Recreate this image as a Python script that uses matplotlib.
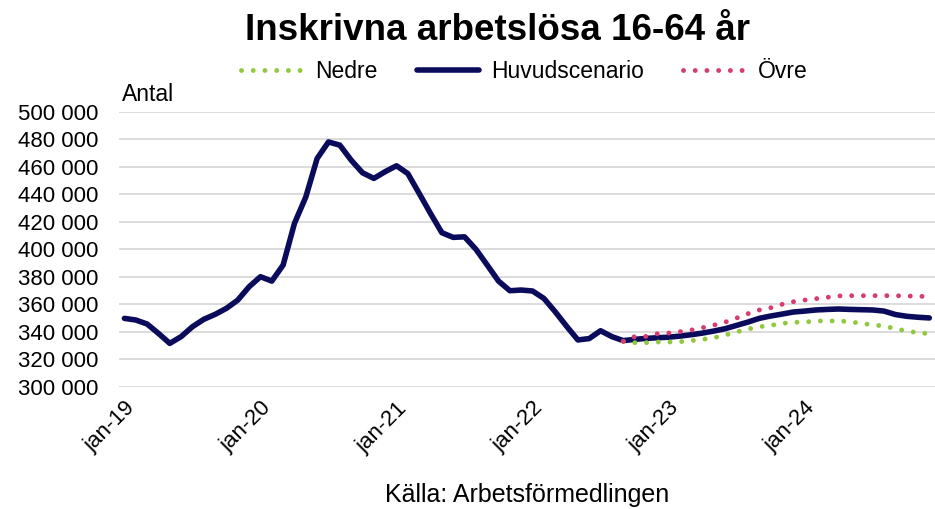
import matplotlib
matplotlib.use("Agg")
import matplotlib.pyplot as plt
import numpy as np
import pandas as pd
from matplotlib.ticker import FuncFormatter

plt.rcParams.update({"font.family": ["Liberation Sans", "DejaVu Sans"], "font.size": 15})

# monthly categories jan-19 .. dec-24
months = pd.date_range("2019-01-01", periods=72, freq="MS")

# Huvudscenario, thousands (history up to aug-22, then forecast)
huvud = [349.7, 348.5, 345.6, 338.8, 331.5, 336.4, 343.6, 349.0, 352.6, 357.0, 363.0, 372.7,
         380.0, 376.8, 388.5, 418.8, 438.0, 466.0, 478.0, 475.7, 464.8, 455.6, 451.5, 456.4,
         460.7, 455.0, 440.6, 426.0, 412.0, 408.6, 409.0, 400.0, 388.5, 376.8, 369.8, 370.3,
         369.6, 364.2, 354.5, 344.0, 334.0, 335.0, 340.7, 336.4, 333.5, 334.4, 335.1, 335.6,
         336.0, 336.8, 337.8, 339.0, 340.5, 342.2, 344.6, 347.0, 349.7, 351.4, 352.8, 354.3,
         355.0, 355.8, 356.2, 356.5, 356.2, 356.0, 355.8, 355.0, 352.5, 351.2, 350.5, 350.0]

# scenarios start sep-22 (index 44)
scen_start = 44
nedre = [333.0, 332.0, 332.0, 332.5, 332.5, 332.7, 333.5, 334.4, 335.6, 337.6, 339.8, 341.9,
         343.6, 344.6, 346.0, 346.8, 347.0, 347.8, 347.8, 347.8, 347.3, 346.0, 345.0, 344.1,
         342.2, 340.5, 339.3, 338.5]
ovre = [333.0, 336.4, 336.6, 338.5, 339.0, 340.0, 341.2, 342.9, 344.8, 347.0, 349.9, 353.1,
        355.8, 357.4, 359.9, 361.8, 363.0, 364.0, 365.0, 366.0, 366.2, 366.2, 366.2, 366.2,
        366.2, 366.0, 365.7, 365.7]

navy = "#0b0b5c"
green = "#92c83e"
pink = "#d83a72"

x = np.arange(len(months))
xs = np.arange(scen_start, scen_start + len(nedre))
huvud = np.array(huvud) * 1000
nedre = np.array(nedre) * 1000
ovre = np.array(ovre) * 1000

fig = plt.figure(figsize=(9.35, 5.09), dpi=100)
ax = fig.add_axes([0.127, 0.2403, 0.873, 0.5402])

dots = (0, (0.01, 2.4))
l_h, = ax.plot(x, huvud, color=navy, lw=4.0, solid_capstyle="round", solid_joinstyle="round",
               label="Huvudscenario", zorder=3)
l_n, = ax.plot(xs, nedre, color=green, lw=3.5, linestyle=dots, dash_capstyle="round", label="Nedre", zorder=4)
l_o, = ax.plot(xs, ovre, color=pink, lw=3.5, linestyle=dots, dash_capstyle="round", label="Övre", zorder=4)

ax.set_xlim(-0.5, 71.5)
ax.set_ylim(300000, 500000)
ax.set_yticks(np.arange(300000, 500001, 20000))
ax.yaxis.set_major_formatter(FuncFormatter(lambda v, p: f"{int(v):,}".replace(",", " ")))
ax.grid(axis="y", color="#d9d9d9", lw=1.3)
ax.set_axisbelow(True)
for s in ax.spines.values():
    s.set_visible(False)
ax.tick_params(length=0)
ax.tick_params(axis="y", pad=15, labelsize=16)

jan_idx = [i for i, m in enumerate(months) if m.month == 1]
ax.set_xticks(jan_idx)
ax.set_xticklabels([f"jan-{m.year % 100}" for m in months[jan_idx]],
                   rotation=45, ha="right", rotation_mode="anchor", fontsize=16)
ax.tick_params(axis="x", pad=8)

fig.text(0.532, 0.941, "Inskrivna arbetslösa 16-64 år", ha="center", va="center",
         fontsize=26.5, fontweight="bold")
fig.text(122 / 935, 1 - 95 / 509, "Antal", ha="left", va="center", fontsize=16.5)
fig.text(0.564, 0.027, "Källa: Arbetsförmedlingen", ha="center", va="center", fontsize=18)

fig.legend(handles=[l_n, l_h, l_o], loc="center", bbox_to_anchor=(524 / 935, 1 - 72 / 509),
           ncol=3, frameon=False, fontsize=16.5, handlelength=2.7, handletextpad=0.55,
           columnspacing=1.7, borderaxespad=0)

fig.savefig("out.png", dpi=100)
